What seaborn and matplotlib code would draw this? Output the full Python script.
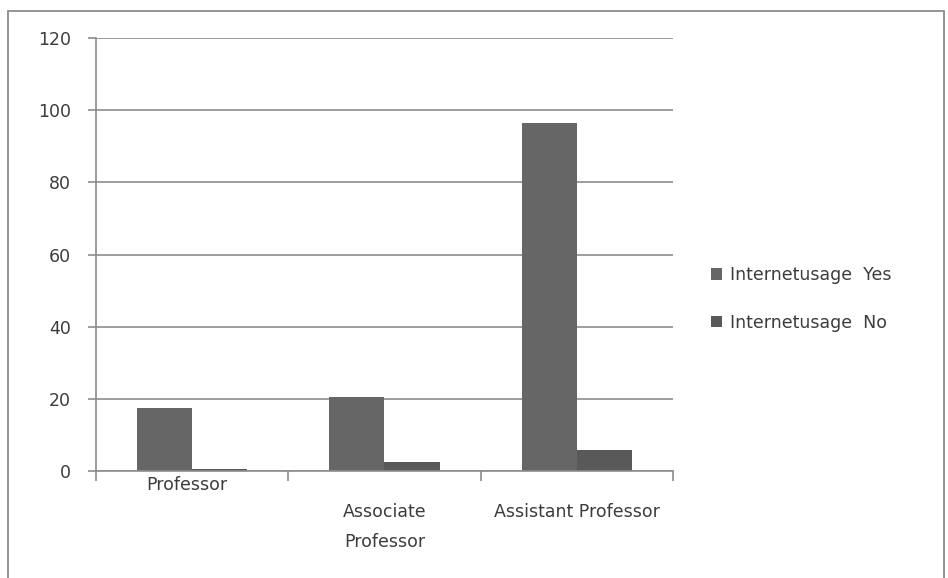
import matplotlib
matplotlib.use("Agg")
import matplotlib.pyplot as plt
import matplotlib.patches as mpatches
import matplotlib.transforms as mtransforms
import seaborn as sns
import pandas as pd

categories = ["Professor", "Associate\nProfessor", "Assistant Professor"]
series_names = ["Internetusage  Yes", "Internetusage  No"]
usage_yes = [17.5, 20.5, 96.5]
usage_no = [0.5, 2.5, 5.7]
y_ticks = [0, 20, 40, 60, 80, 100, 120]

df = pd.DataFrame({
    "Designation": categories * 2,
    "Series": [series_names[0]] * 3 + [series_names[1]] * 3,
    "Count": usage_yes + usage_no,
})

sns.set_theme(style="white")
plt.rcParams["font.family"] = ["DejaVu Sans"]

text_color = "#3c3c3c"
grid_color = "#8c8c8c"
font_size = 12.5
palette = {series_names[0]: "#666666", series_names[1]: "#595959"}

fig = plt.figure(figsize=(9.48, 5.78), dpi=100)
ax = fig.add_axes([96 / 948, 1 - 471 / 578, (673 - 96) / 948, (471 - 38) / 578])

sns.barplot(data=df, x="Designation", y="Count", hue="Series", palette=palette,
            width=0.573, gap=0, saturation=1, ax=ax, legend=False,
            edgecolor="none", linewidth=0)

ax.set_xlim(-0.5, 2.5)
ax.set_ylim(0, 120)
ax.set_yticks(y_ticks)
ax.set_yticklabels([str(v) for v in y_ticks], color=text_color, fontsize=font_size)
ax.yaxis.grid(True, color=grid_color, linewidth=1.2)
ax.set_axisbelow(True)
ax.set_xlabel("")
ax.set_ylabel("")

for side in ["top", "right"]:
    ax.spines[side].set_visible(False)
ax.spines["left"].set_color(grid_color)
ax.spines["left"].set_linewidth(1.2)
ax.spines["bottom"].set_color(grid_color)
ax.spines["bottom"].set_linewidth(1.2)

ax.tick_params(axis="y", which="major", left=True, length=6, width=1.2,
               color=grid_color, pad=12)

# category boundaries carry the x ticks
ax.set_xticks([-0.5, 0.5, 1.5, 2.5])
ax.set_xticklabels([])
ax.tick_params(axis="x", which="major", bottom=True, length=7, width=1.2,
               color=grid_color)

# category labels below the axis, staggered onto two rows
label_drop = [5, 32, 32]
label_shift = [-5, 0, 0]
for i, name in enumerate(categories):
    off = mtransforms.offset_copy(ax.get_xaxis_transform(), fig=fig,
                                  x=label_shift[i], y=-label_drop[i], units="dots")
    ax.text(i, 0, name, transform=off, ha="center", va="top",
            color=text_color, fontsize=font_size, linespacing=1.85)

handles = [mpatches.Patch(facecolor=palette[n], edgecolor="none", label=n)
           for n in series_names]
fig.legend(handles=handles, loc="center left",
           bbox_to_anchor=(695 / 948, 1 - 299 / 578), frameon=False,
           fontsize=font_size, labelcolor=text_color, handlelength=0.65,
           handleheight=0.65, handletextpad=0.45, labelspacing=1.7)

# outer chart border
fig.patches.append(mpatches.Rectangle((8 / 948, -0.01), (944 - 8) / 948,
                                      1 - 11 / 578 + 0.01,
                                      transform=fig.transFigure, fill=False,
                                      edgecolor="#8c8c8c", linewidth=1.3))

fig.savefig("out.png", dpi=100)
